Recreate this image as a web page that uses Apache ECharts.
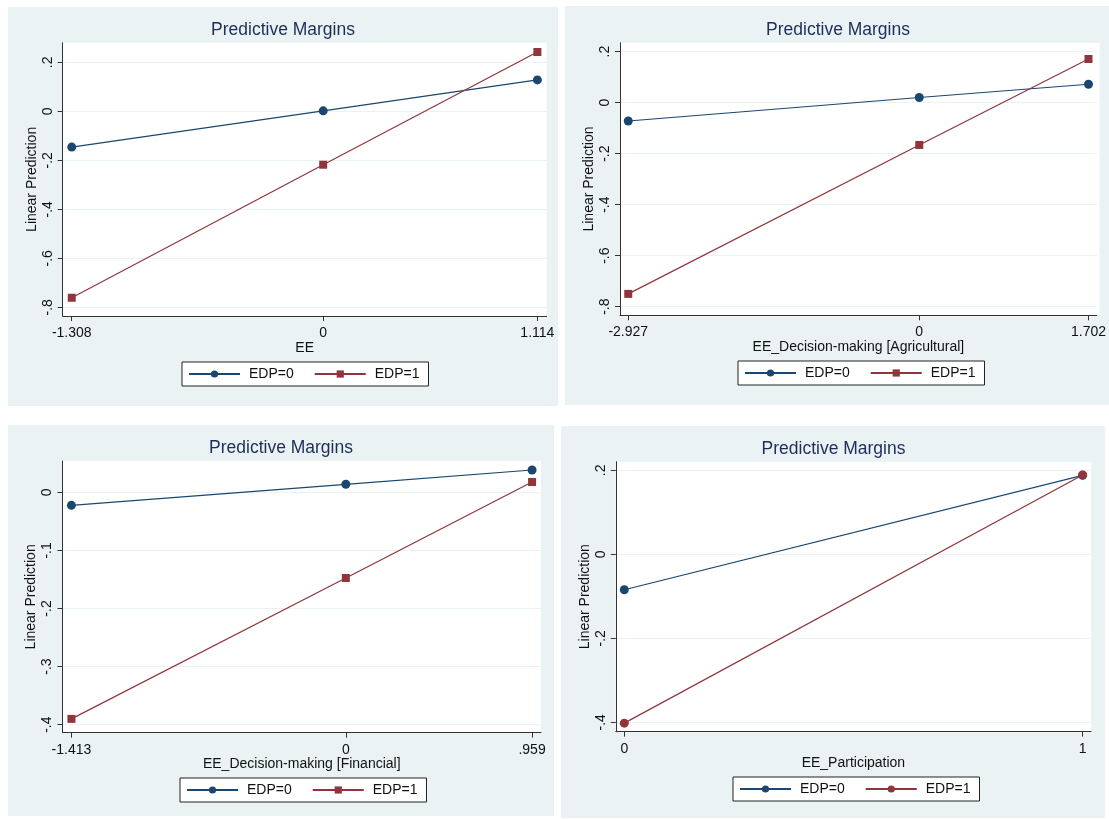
<!DOCTYPE html>
<html>
<head>
<meta charset="utf-8">
<script src="https://cdn.jsdelivr.net/npm/echarts@6/dist/echarts.min.js"></script>
<style>
html,body{margin:0;padding:0;background:#fff;}
#c{width:1109px;height:819px;}
</style>
</head>
<body>
<div id="c"></div>
<script>
// ---- Data ----
const seriesNames = ['EDP=0', 'EDP=1'];
const chartTitle = 'Predictive Margins';
const yTitle = 'Linear Prediction';

// Panel 1: EE
const p1XTitle = 'EE';
const p1X = [-1.308, 0, 1.114];
const p1XLabels = ['-1.308', '0', '1.114'];
const p1Edp0 = [-0.146, 0.002, 0.128];
const p1Edp1 = [-0.761, -0.218, 0.242];
const p1YTicks = [-0.8, -0.6, -0.4, -0.2, 0, 0.2];
const p1YLabels = ['-.8', '-.6', '-.4', '-.2', '0', '.2'];

// Panel 2: EE_Decision-making [Agricultural]
const p2XTitle = 'EE_Decision-making [Agricultural]';
const p2X = [-2.927, 0, 1.702];
const p2XLabels = ['-2.927', '0', '1.702'];
const p2Edp0 = [-0.072, 0.020, 0.072];
const p2Edp1 = [-0.750, -0.166, 0.171];
const p2YTicks = [-0.8, -0.6, -0.4, -0.2, 0, 0.2];
const p2YLabels = ['-.8', '-.6', '-.4', '-.2', '0', '.2'];

// Panel 3: EE_Decision-making [Financial]
const p3XTitle = 'EE_Decision-making [Financial]';
const p3X = [-1.413, 0, 0.959];
const p3XLabels = ['-1.413', '0', '.959'];
const p3Edp0 = [-0.0224, 0.0138, 0.0384];
const p3Edp1 = [-0.390, -0.1475, 0.0177];
const p3YTicks = [-0.4, -0.3, -0.2, -0.1, 0];
const p3YLabels = ['-.4', '-.3', '-.2', '-.1', '0'];

// Panel 4: EE_Participation
const p4XTitle = 'EE_Participation';
const p4X = [0, 1];
const p4XLabels = ['0', '1'];
const p4Edp0 = [-0.0843, 0.188];
const p4Edp1 = [-0.402, 0.189];
const p4YTicks = [-0.4, -0.2, 0, 0.2];
const p4YLabels = ['-.4', '-.2', '0', '.2'];

// ---- Layout / style ----
const FONT = "'Liberation Sans', Arial, sans-serif";
const NAVY = '#1a476f';
const MAROON = '#90353b';
const BG = '#eaf2f3';
const FS = 14;

const panels = [
  { x: p1X, xl: p1XLabels, e0: p1Edp0, e1: p1Edp1, yt: p1YTicks, yl: p1YLabels, xt: p1XTitle,
    grid: { left: 62.7, top: 42.7, width: 483.9, height: 273.3 }, xr: [-1.355, 1.162], yr: [-0.8355, 0.28],
    bg: [8, 7, 550, 399], title: [283, 21], legend: [182, 362], sym1: 'rect' },
  { x: p2X, xl: p2XLabels, e0: p2Edp0, e1: p2Edp1, yt: p2YTicks, yl: p2YLabels, xt: p2XTitle,
    grid: { left: 620, top: 42.7, width: 479.6, height: 272.6 }, xr: [-3.01, 1.786], yr: [-0.834, 0.235],
    bg: [565, 6, 544, 399], title: [838, 21], legend: [738, 361], sym1: 'rect' },
  { x: p3X, xl: p3XLabels, e0: p3Edp0, e1: p3Edp1, yt: p3YTicks, yl: p3YLabels, xt: p3XTitle,
    grid: { left: 62.5, top: 461, width: 478.5, height: 271.7 }, xr: [-1.459, 1.005], yr: [-0.4138, 0.0539],
    bg: [8, 425, 546, 391], title: [281, 439], legend: [180, 778], sym1: 'rect' },
  { x: p4X, xl: p4XLabels, e0: p4Edp0, e1: p4Edp1, yt: p4YTicks, yl: p4YLabels, xt: p4XTitle,
    grid: { left: 615.8, top: 461.7, width: 475.2, height: 270 }, xr: [-0.0185, 1.0183], yr: [-0.4224, 0.2205],
    bg: [561, 426, 544, 392], title: [833.5, 440.5], legend: [733, 777], sym1: 'circle', suffix: ' ' }
];

function labelFor(ticks, labels) {
  return function (v) {
    let best = 0, d = Infinity;
    ticks.forEach((t, i) => { const dd = Math.abs(t - v); if (dd < d) { d = dd; best = i; } });
    return labels[best];
  };
}

const option = {
  animation: false,
  backgroundColor: '#fff',
  textStyle: { fontFamily: FONT },
  graphic: panels.map(p => ({
    type: 'rect', silent: true, z: -10,
    shape: { x: p.bg[0], y: p.bg[1], width: p.bg[2], height: p.bg[3] },
    style: { fill: BG }
  })).concat(panels.map(p => ({
    type: 'rect', silent: true, z: -9,
    shape: { x: p.grid.left, y: p.grid.top, width: p.grid.width, height: p.grid.height },
    style: { fill: '#fff' }
  }))),
  title: panels.map(p => ({
    text: chartTitle, left: p.title[0], top: p.title[1], textAlign: 'center', padding: 0,
    textStyle: { fontFamily: FONT, fontSize: 17.5, fontWeight: 'normal', color: '#1e2d5a' }
  })),
  legend: panels.map((p, i) => ({
    left: p.legend[0], top: p.legend[1],
    data: seriesNames.map(n => n + (p.suffix || '')),
    formatter: n => n.trim(),
    orient: 'horizontal',
    itemWidth: 51, itemHeight: 9, itemGap: 20,
    padding: [5, 9, 5, 6],
    borderColor: '#222', borderWidth: 1, backgroundColor: '#fff', borderRadius: 0,
    selectedMode: false,
    textStyle: { fontFamily: FONT, fontSize: FS, color: '#111', padding: [0, 0, 0, 4] }
  })),
  grid: panels.map(p => Object.assign({ containLabel: false }, p.grid)),
  xAxis: panels.map((p, i) => ({
    type: 'value', gridIndex: i, min: p.xr[0], max: p.xr[1],
    name: p.xt, nameLocation: 'middle', nameGap: 24,
    nameTextStyle: { fontFamily: FONT, fontSize: FS, color: '#111' },
    axisLine: { show: true, onZero: false, lineStyle: { color: '#333', width: 1 } },
    axisTick: { show: true, length: 5, customValues: p.x, lineStyle: { color: '#333' } },
    axisLabel: { show: true, customValues: p.x, margin: 10, fontFamily: FONT, fontSize: FS, color: '#111',
      formatter: labelFor(p.x, p.xl), showMinLabel: true, showMaxLabel: true },
    splitLine: { show: false }
  })),
  yAxis: panels.map((p, i) => ({
    type: 'value', gridIndex: i, min: p.yr[0], max: p.yr[1],
    name: yTitle, nameLocation: 'middle', nameGap: 24, nameRotate: 90,
    nameTextStyle: { fontFamily: FONT, fontSize: FS, color: '#111' },
    axisLine: { show: true, onZero: false, lineStyle: { color: '#333', width: 1 } },
    axisTick: { show: true, length: 5, customValues: p.yt, lineStyle: { color: '#333' } },
    axisLabel: { show: true, customValues: p.yt, rotate: 90, margin: 8, fontFamily: FONT, fontSize: FS, color: '#111',
      formatter: labelFor(p.yt, p.yl) },
    splitLine: { show: true, lineStyle: { color: BG, width: 1 } }
  })),
  series: []
};

panels.forEach((p, i) => {
  const suf = p.suffix || '';
  option.series.push({
    type: 'line', name: seriesNames[0] + suf, xAxisIndex: i, yAxisIndex: i,
    data: p.x.map((x, k) => [x, p.e0[k]]),
    symbol: 'circle', symbolSize: 9, showSymbol: true,
    itemStyle: { color: NAVY }, lineStyle: { color: NAVY, width: 1.2 }, z: 3
  });
  option.series.push({
    type: 'line', name: seriesNames[1] + suf, xAxisIndex: i, yAxisIndex: i,
    data: p.x.map((x, k) => [x, p.e1[k]]),
    symbol: p.sym1, symbolSize: p.sym1 === 'rect' ? 8 : 9, showSymbol: true,
    itemStyle: { color: MAROON }, lineStyle: { color: MAROON, width: 1.2 }, z: 4
  });
});

const chart = echarts.init(document.getElementById('c'), null, { renderer: 'canvas' });
chart.setOption(option);
</script>
</body>
</html>
